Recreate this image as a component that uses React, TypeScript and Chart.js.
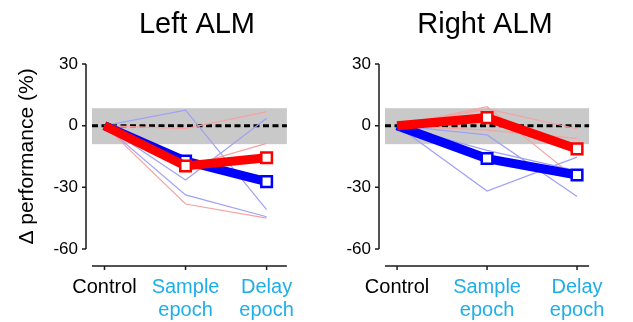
import React, { useEffect, useRef } from "react";
import { Chart, registerables } from "chart.js";

Chart.register(...registerables);

// ---------- data ----------
const categories: string[][] = [["Control"], ["Sample", "epoch"], ["Delay", "epoch"]];
const categoryColors = ["#000000", "#1eaee8", "#1eaee8"];
const xPositions = [0, 1, 2];
const yTicks = [-60, -30, 0, 30];
const bandRange = [-9, 8.5];
const titles = ["Left ALM", "Right ALM"];
const yTitle = "Δ performance (%)";

// Left ALM
const leftBlueMean = [0, -17.2, -27.2];
const leftRedMean = [0, -19.6, -15.6];
const leftBlueThin = [
  [0, 7.6, -40.8],
  [0, -26.4, 3.6],
  [0, -33.7, -44.3],
];
const leftRedThin = [
  [0, -1.4, 6.8],
  [0, -20.0, -8.6],
  [0, -38.1, -45.0],
];

// Right ALM
const rightBlueMean = [0, -16.0, -24.0];
const rightRedMean = [0, 3.9, -11.3];
const rightBlueThin = [
  [0, -31.8, -15.3],
  [0, -4.5, -34.5],
  [0, -12.0, -22.0],
];
const rightRedThin = [
  [0, 9.2, -26.0],
  [0, 8.2, -1.5],
  [0, -2.2, -6.2],
];

// ---------- styling ----------
const FONT = "'Liberation Sans', Arial, Helvetica, sans-serif";
const BLUE = "#0000ff";
const RED = "#ff0000";
const BLUE_THIN = "#a0a0f6";
const RED_THIN = "#f6a2a2";

const decorPlugin = {
  id: "decor",
  beforeDatasetsDraw(chart: any, _args: any, opts: any) {
    const { ctx, chartArea: a } = chart;
    const x = chart.scales.x;
    const y = chart.scales.y;
    ctx.save();
    // grey band
    const yTop = y.getPixelForValue(bandRange[1]);
    const yBot = y.getPixelForValue(bandRange[0]);
    ctx.fillStyle = "#c9c9c9";
    ctx.fillRect(a.left, yTop, a.right - a.left, yBot - yTop);
    // dashed zero line
    const y0 = y.getPixelForValue(0);
    ctx.strokeStyle = "#000";
    ctx.lineWidth = 3;
    ctx.setLineDash([6, 3.5]);
    ctx.beginPath();
    ctx.moveTo(a.left, y0);
    ctx.lineTo(a.right, y0);
    ctx.stroke();
    ctx.setLineDash([]);
    // offset axes
    ctx.strokeStyle = "#1a1a1a";
    ctx.lineWidth = 1.5;
    ctx.beginPath();
    const ax = a.left - 6;
    ctx.moveTo(ax, y.getPixelForValue(yTicks[yTicks.length - 1]));
    ctx.lineTo(ax, y.getPixelForValue(yTicks[0]));
    for (const t of yTicks) {
      const py = y.getPixelForValue(t);
      ctx.moveTo(ax - 4, py);
      ctx.lineTo(ax, py);
    }
    const ay = a.bottom + 17;
    ctx.moveTo(a.left, ay);
    ctx.lineTo(a.right, ay);
    for (const v of xPositions) {
      const px = x.getPixelForValue(v);
      ctx.moveTo(px, ay);
      ctx.lineTo(px, ay + 4);
    }
    ctx.stroke();
    // panel title
    ctx.fillStyle = "#000";
    ctx.font = `29px ${FONT}`;
    ctx.textAlign = "center";
    ctx.textBaseline = "alphabetic";
    ctx.fillText(opts.text, opts.x, 33);
    ctx.restore();
  },
};

function series(values: number[]) {
  return values.map((v, i) => ({ x: xPositions[i], y: v }));
}

function buildConfig(p: {
  blueMean: number[];
  redMean: number[];
  blueThin: number[][];
  redThin: number[][];
  title: string;
  titleX: number;
  yWidth: number;
  padRight: number;
  xMin: number;
  xMax: number;
  showYTitle: boolean;
}) {
  const thin = (vals: number[], color: string) => ({
    data: series(vals),
    borderColor: color,
    borderWidth: 1.2,
    pointRadius: 0,
    order: 2,
  });
  const thick = (vals: number[], color: string, order: number) => ({
    data: series(vals),
    borderColor: color,
    borderWidth: 9,
    borderCapStyle: "butt",
    borderJoinStyle: "miter",
    pointStyle: "rect",
    pointRadius: vals.map((_, i) => (i === 0 ? 0 : 7.5)),
    pointBackgroundColor: "#ffffff",
    pointBorderColor: color,
    pointBorderWidth: 2.5,
    order,
  });
  return {
    type: "line",
    data: {
      datasets: [
        thick(p.redMean, RED, 0),
        thick(p.blueMean, BLUE, 1),
        ...p.redThin.map((v) => thin(v, RED_THIN)),
        ...p.blueThin.map((v) => thin(v, BLUE_THIN)),
      ],
    },
    options: {
      animation: false,
      responsive: false,
      events: [],
      layout: { padding: { top: 64, right: p.padRight, bottom: 0, left: 0 } },
      plugins: {
        legend: { display: false },
        tooltip: { enabled: false },
        title: { display: false },
        decor: { text: p.title, x: p.titleX },
      },
      scales: {
        x: {
          type: "linear",
          min: p.xMin,
          max: p.xMax,
          grid: { display: false, drawTicks: false },
          border: { display: false },
          afterBuildTicks: (s: any) => {
            s.ticks = xPositions.map((v) => ({ value: v }));
          },
          afterFit: (s: any) => {
            s.height = 73;
          },
          ticks: {
            autoSkip: false,
            maxRotation: 0,
            padding: 27,
            font: { family: FONT, size: 20, lineHeight: 1.15 },
            color: (c: any) => categoryColors[c.index] ?? "#000",
            callback: (_v: any, i: number) => categories[i],
          },
        },
        y: {
          type: "linear",
          min: yTicks[0],
          max: yTicks[yTicks.length - 1],
          grid: { display: false, drawTicks: false },
          border: { display: false },
          afterBuildTicks: (s: any) => {
            s.ticks = yTicks.map((v) => ({ value: v }));
          },
          afterFit: (s: any) => {
            s.width = p.yWidth;
          },
          ticks: {
            padding: 14,
            font: { family: FONT, size: 17 },
            color: "#000",
            callback: (v: any) => String(v),
          },
          title: {
            display: p.showYTitle,
            text: yTitle,
            color: "#000",
            font: { family: FONT, size: 21 },
            padding: { top: 15, bottom: 0 },
          },
        },
      },
    },
    plugins: [decorPlugin],
  } as any;
}

function Panel(props: { config: any; left: number; width: number }) {
  const ref = useRef<HTMLCanvasElement | null>(null);
  useEffect(() => {
    if (!ref.current) return;
    const chart = new Chart(ref.current, props.config);
    return () => chart.destroy();
  }, []);
  return (
    <canvas
      ref={ref}
      width={props.width}
      height={322}
      style={{ position: "absolute", left: props.left, top: 0, width: props.width, height: 322, display: "block" }}
    />
  );
}

export default function App() {
  const leftCfg = buildConfig({
    blueMean: leftBlueMean,
    redMean: leftRedMean,
    blueThin: leftBlueThin,
    redThin: leftRedThin,
    title: titles[0],
    titleX: 197,
    yWidth: 92,
    padRight: 11,
    xMin: -0.154,
    xMax: 2.25,
    showYTitle: true,
  });
  const rightCfg = buildConfig({
    blueMean: rightBlueMean,
    redMean: rightRedMean,
    blueThin: rightBlueThin,
    redThin: rightRedThin,
    title: titles[1],
    titleX: 485 - 322,
    yWidth: 63,
    padRight: 29,
    xMin: -0.134,
    xMax: 2.134,
    showYTitle: false,
  });
  return (
    <div style={{ position: "absolute", left: 0, top: 0, width: 633, height: 322, background: "#fff" }}>
      <Panel config={leftCfg} left={0} width={322} />
      <Panel config={rightCfg} left={322} width={311} />
    </div>
  );
}
